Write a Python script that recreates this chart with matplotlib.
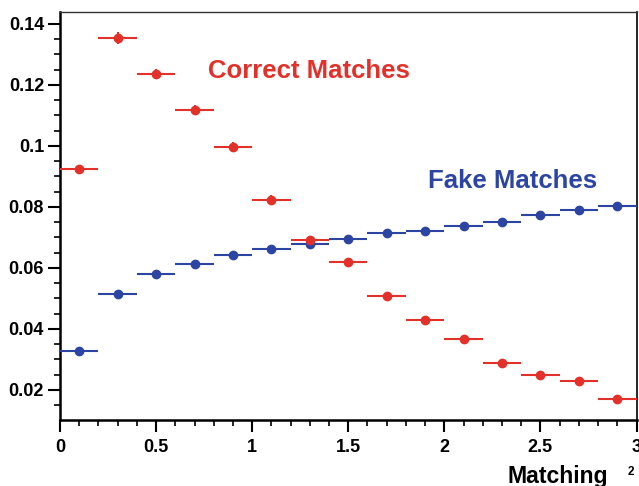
import matplotlib
matplotlib.use("Agg")
import matplotlib.pyplot as plt
import numpy as np

plt.rcParams['font.family'] = ['Liberation Sans', 'DejaVu Sans']
plt.rcParams['font.weight'] = 'bold'

x_centers = [0.1, 0.3, 0.5, 0.7, 0.9, 1.1, 1.3, 1.5, 1.7, 1.9, 2.1, 2.3, 2.5, 2.7, 2.9]
x_halfwidth = 0.1

correct = [0.0923, 0.1353, 0.1235, 0.1117, 0.0997, 0.0823, 0.0692, 0.0620,
           0.0509, 0.0428, 0.0368, 0.0289, 0.0249, 0.0230, 0.0169]
correct_err = [0.0014, 0.0020, 0.0017, 0.0017, 0.0017, 0.0016, 0.0014, 0.0010,
               0.0009, 0.0008, 0.0008, 0.0007, 0.0007, 0.0006, 0.0006]

fake = [0.0328, 0.0514, 0.0581, 0.0614, 0.0642, 0.0662, 0.0678, 0.0695,
        0.0715, 0.0721, 0.0739, 0.0750, 0.0773, 0.0789, 0.0802]
fake_err = [0.0004] * 15

red = '#e2312a'
blue = '#2c45a2'

fig = plt.figure(figsize=(6.39, 4.86), dpi=100)
ax = fig.add_axes([60/639, 1-420/486, (636.5-60)/639, (420-12)/486])

ax.errorbar(x_centers, fake, xerr=x_halfwidth, yerr=fake_err, fmt='o', color=blue,
            ms=6, elinewidth=1.5, capsize=0, zorder=3)
ax.errorbar(x_centers, correct, xerr=x_halfwidth, yerr=correct_err, fmt='o', color=red,
            ms=6, elinewidth=1.5, capsize=0, zorder=4)

ax.set_xlim(0, 3)
ax.set_ylim(0.01016, 0.14393)
ax.set_xticks([0, 0.5, 1, 1.5, 2, 2.5, 3])
ax.set_xticklabels(['0', '0.5', '1', '1.5', '2', '2.5', '3'])
ax.set_xticks(np.arange(0, 3.0001, 0.1), minor=True)
ax.set_yticks([0.02, 0.04, 0.06, 0.08, 0.1, 0.12, 0.14])
ax.set_yticklabels(['0.02', '0.04', '0.06', '0.08', '0.1', '0.12', '0.14'])
ax.set_yticks(np.arange(0.015, 0.1431, 0.005), minor=True)

ax.tick_params(axis='both', which='major', direction='out', length=8.5, width=1.5,
               labelsize=13, pad=3)
ax.tick_params(axis='both', which='minor', direction='out', length=4.3, width=1.2)
ax.tick_params(axis='x', which='major', pad=5)
for lab in ax.get_xticklabels() + ax.get_yticklabels():
    lab.set_fontweight('bold')

ax.spines['left'].set_linewidth(1.8)
ax.spines['bottom'].set_linewidth(1.8)
ax.spines['top'].set_linewidth(1.0)
ax.spines['right'].set_linewidth(1.2)
ax.spines['top'].set_color('#333333')

ax.text(0.771, 0.1246, 'Correct Matches', color=red, fontsize=18.5, fontweight='bold',
        ha='left', va='center')
ax.text(1.917, 0.0885, 'Fake Matches', color=blue, fontsize=18.5, fontweight='bold',
        ha='left', va='center')

fig.text(608/639, 1-483/486, 'Matching', fontsize=16.6, fontweight='bold',
         ha='right', va='baseline')
fig.text(628/639, 1-475/486, '2', fontsize=8.5, fontweight='bold',
         ha='left', va='baseline')

fig.savefig('out.png', dpi=100)
